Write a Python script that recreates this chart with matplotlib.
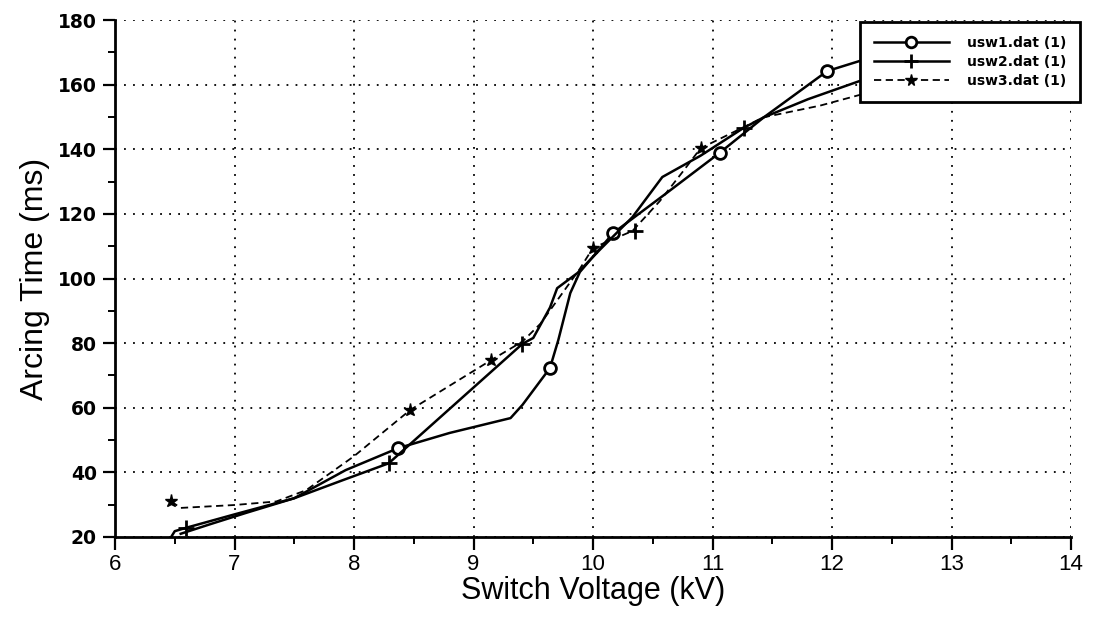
import matplotlib
matplotlib.use('Agg')
import matplotlib.pyplot as plt
from matplotlib.ticker import MultipleLocator

# ---- data ----
usw1_x = [6.55, 6.8, 7.1, 7.5, 7.93, 8.37, 8.8, 9.31, 9.41, 9.64, 9.71, 9.81, 9.89,
          10.17, 10.6, 11.06, 11.43, 11.96, 12.23, 12.6]
usw1_y = [21.0, 24.0, 27.5, 32.0, 40.7, 47.5, 52.2, 56.8, 60.9, 72.3, 81.0, 95.5, 102.0,
          114.1, 126.0, 138.9, 149.9, 164.2, 167.3, 169.0]
usw1_marks = [5, 9, 13, 15, 17]

usw2_x = [6.47, 6.5, 6.59, 7.0, 7.5, 7.9, 8.29, 9.41, 9.5, 9.64, 9.7, 9.87, 10.06,
          10.33, 10.58, 10.9, 11.26, 11.43, 11.8, 12.23, 12.6]
usw2_y = [20.0, 21.8, 22.8, 27.0, 32.0, 37.5, 42.8, 79.8, 81.6, 91.0, 97.0, 101.7, 109.0,
          119.0, 131.4, 138.0, 146.6, 149.9, 155.5, 161.1, 163.0]
usw2_marks = [2, 6, 7, 16]

usw3_x = [6.47, 6.55, 7.0, 7.35, 7.6, 8.0, 8.47, 9.15, 9.41, 9.56, 9.89, 10.0, 10.33,
          10.56, 10.75, 10.9, 11.43, 11.9, 12.23, 12.6]
usw3_y = [31.0, 29.0, 29.9, 31.0, 34.5, 45.0, 59.3, 74.8, 80.5, 86.0, 103.0, 109.5, 114.7,
          124.0, 133.0, 140.3, 149.9, 153.5, 156.8, 158.5]
usw3_marks = [0, 6, 7, 11, 15]

usw2_extra_x = [10.35]
usw2_extra_y = [114.7]

labels = ['usw1.dat (1)', 'usw2.dat (1)', 'usw3.dat (1)']
x_label = 'Switch Voltage (kV)'
y_label = 'Arcing Time (ms)'

# ---- figure ----
fig = plt.figure(figsize=(10.96, 6.17), dpi=100)
ax = fig.add_axes([115/1096, 80/617, 956/1096, 517/617])

ax.plot(usw1_x, usw1_y, color='black', lw=1.8, marker='o', markevery=usw1_marks,
        ms=8.5, mfc='white', mec='black', mew=2.0, label=labels[0], zorder=3)
ax.plot(usw2_x, usw2_y, color='black', lw=1.8, marker='+', markevery=usw2_marks,
        ms=11, mec='black', mew=2.0, label=labels[1], zorder=3)
ax.plot(usw2_extra_x, usw2_extra_y, ls='none', marker='+', ms=11, mec='black', mew=2.0,
        zorder=3)
ax.plot(usw3_x, usw3_y, color='black', lw=1.3, ls=(0, (4, 2.5)), marker='*',
        markevery=usw3_marks, ms=9.5, mfc='black', mec='black', label=labels[2], zorder=3)

ax.set_xlim(6, 14)
ax.set_ylim(20, 180)
ax.xaxis.set_major_locator(MultipleLocator(1))
ax.xaxis.set_minor_locator(MultipleLocator(0.5))
ax.yaxis.set_major_locator(MultipleLocator(20))
ax.yaxis.set_minor_locator(MultipleLocator(10))

ax.grid(which='major', color='black', linestyle=(0, (1, 4)), lw=1.3)
ax.set_axisbelow(True)

for s in ['top', 'right']:
    ax.spines[s].set_visible(False)
for s in ['left', 'bottom']:
    ax.spines[s].set_linewidth(2.0)

ax.tick_params(which='major', direction='out', length=9, width=1.6)
ax.tick_params(which='minor', direction='out', length=5, width=1.4)
ax.tick_params(axis='x', which='major', pad=3)
ax.tick_params(axis='y', which='major', pad=4)

for t in ax.get_yticklabels():
    t.set_family('DejaVu Sans')
    t.set_fontweight('bold')
    t.set_fontsize(13.5)
for t in ax.get_xticklabels():
    t.set_family('Liberation Sans')
    t.set_fontsize(16)

ax.set_xlabel(x_label, family='Liberation Sans', fontsize=22, labelpad=1)
ax.set_ylabel(y_label, family='Liberation Sans', fontsize=23, labelpad=6)

leg = ax.legend(loc='upper left', bbox_to_anchor=(0.779, 0.996), borderaxespad=0,
                frameon=True, fancybox=False, framealpha=1, edgecolor='black',
                prop={'family': 'DejaVu Sans', 'weight': 'bold', 'size': 10},
                handlelength=5.4, handletextpad=1.3, labelspacing=0.35, borderpad=1.0,
                numpoints=1, markerscale=0.9)
leg.get_frame().set_linewidth(2.0)
leg.set_zorder(10)

fig.savefig('out.png', dpi=100)
